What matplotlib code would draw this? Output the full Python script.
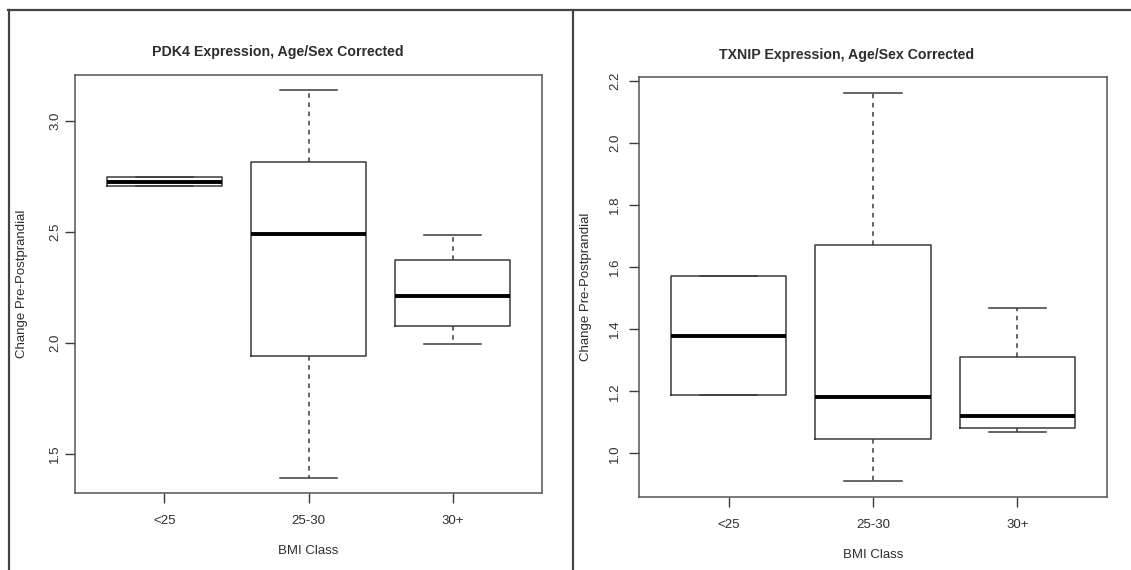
import numpy as np
import matplotlib
matplotlib.use("Agg")
import matplotlib.pyplot as plt
from matplotlib.lines import Line2D

plt.rcParams['font.family'] = ['Liberation Sans', 'DejaVu Sans']

# BMI classes
categories = ['<25', '25-30', '30+']

# PDK4 box stats
pdk4_whislo = [2.705, 1.395, 1.995]
pdk4_q1 = [2.705, 1.942, 2.074]
pdk4_med = [2.725, 2.491, 2.209]
pdk4_q3 = [2.747, 2.812, 2.374]
pdk4_whishi = [2.747, 3.135, 2.487]
pdk4_ticks = [1.5, 2.0, 2.5, 3.0]

# TXNIP box stats
txnip_whislo = [1.187, 0.910, 1.069]
txnip_q1 = [1.187, 1.047, 1.081]
txnip_med = [1.379, 1.182, 1.122]
txnip_q3 = [1.570, 1.672, 1.310]
txnip_whishi = [1.570, 2.162, 1.468]
txnip_ticks = [1.0, 1.2, 1.4, 1.6, 1.8, 2.0, 2.2]

TXT = '#2e2e2e'
LN = '#3a3a3a'

W, H = 1131, 570
fig = plt.figure(figsize=(W / 100, H / 100), dpi=100)


def px_axes(x0, y0, x1, y1):
    return fig.add_axes([x0 / W, 1 - y1 / H, (x1 - x0) / W, (y1 - y0) / H])


def draw_panel(ax, lo, q1, med, q3, hi, ticks, title, title_xy, ytick_pad, ylab_pad):
    stats = []
    for i in range(len(categories)):
        stats.append(dict(whislo=lo[i], q1=q1[i], med=med[i], q3=q3[i],
                          whishi=hi[i], label=categories[i]))
    ax.bxp(stats, positions=[1, 2, 3], widths=0.8, capwidths=0.4,
           showfliers=False,
           boxprops=dict(color=LN, linewidth=1.1),
           medianprops=dict(color='black', linewidth=2.8, solid_capstyle='butt'),
           whiskerprops=dict(color=LN, linewidth=1.1, linestyle=(0, (3, 3))),
           capprops=dict(color=LN, linewidth=1.1))
    ymin, ymax = min(lo), max(hi)
    pad = 0.04 * (ymax - ymin)
    ax.set_ylim(ymin - pad, ymax + pad)
    ax.set_xlim(0.5 - 0.12, 3.5 + 0.12)
    ax.set_yticks(ticks)
    ax.set_yticklabels(['%.1f' % t for t in ticks], rotation=90, va='center')
    ax.tick_params(axis='y', direction='out', length=7, width=1, color=LN,
                   labelsize=9.5, labelcolor=TXT, pad=ytick_pad)
    ax.tick_params(axis='x', direction='out', length=7, width=1, color=LN,
                   labelsize=9.5, labelcolor=TXT, pad=9)
    for s in ax.spines.values():
        s.set_color('#555555')
        s.set_linewidth(1.1)
    ax.set_xlabel('BMI Class', fontsize=9.5, color=TXT, labelpad=13)
    ax.set_ylabel('Change Pre-Postprandial', fontsize=9.5, color=TXT, labelpad=ylab_pad)
    fig.text(title_xy[0] / W, 1 - title_xy[1] / H, title, ha='center',
             va='center', fontsize=10.2, fontweight='bold', color=TXT)


ax1 = px_axes(75, 75, 542, 493)
draw_panel(ax1, pdk4_whislo, pdk4_q1, pdk4_med, pdk4_q3, pdk4_whishi,
           pdk4_ticks, 'PDK4 Expression, Age/Sex Corrected', (278, 52), 3, 15)

ax2 = px_axes(639, 77, 1107, 497)
draw_panel(ax2, txnip_whislo, txnip_q1, txnip_med, txnip_q3, txnip_whishi,
           txnip_ticks, 'TXNIP Expression, Age/Sex Corrected', (847, 55), 6, 12.5)

# outer frame and divider
for xs, ys in [([8, W], [10, 10]), ([9, 9], [10, H]), ([573, 573], [10, H])]:
    fig.add_artist(Line2D([x / W for x in xs], [1 - y / H for y in ys],
                          color='#444444', linewidth=1.6))

fig.savefig('out.png', dpi=100)
